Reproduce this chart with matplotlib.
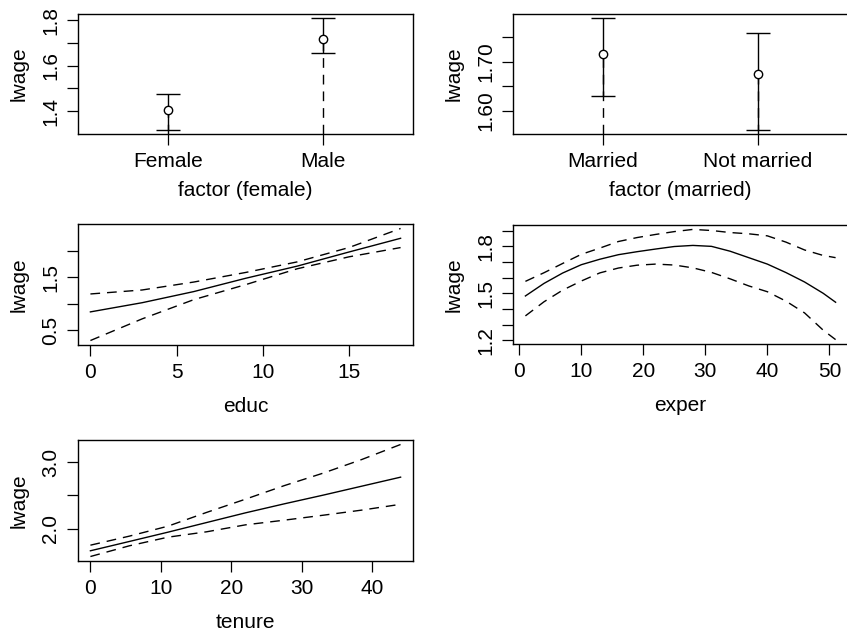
import matplotlib
matplotlib.use("Agg")
import matplotlib.pyplot as plt
import numpy as np

plt.rcParams['font.family'] = ['Liberation Sans', 'DejaVu Sans']
FS = 15
plt.rcParams['font.size'] = FS

W, H, DPI = 847, 632, 100

# factor terms: level estimates with confidence limits
female_levels = ["Female", "Male"]
female_fit = [1.404, 1.718]
female_lower = [1.320, 1.655]
female_upper = [1.474, 1.807]

married_levels = ["Married", "Not married"]
married_fit = [1.716, 1.675]
married_lower = [1.631, 1.562]
married_upper = [1.788, 1.759]

# numeric terms: fitted curve with confidence band
educ = [0, 3, 6, 9, 12, 15, 18]
educ_fit = [0.847, 1.02, 1.23, 1.48, 1.71, 1.976, 2.235]
educ_upper = [1.185, 1.26, 1.41, 1.59, 1.79, 2.06, 2.42]
educ_lower = [0.307, 0.715, 1.078, 1.36, 1.66, 1.885, 2.06]

exper = [1, 4, 7, 10, 13, 16, 19, 22, 25, 28, 31, 34, 37, 40, 43, 46, 49, 51]
exper_fit = [1.483, 1.563, 1.629, 1.682, 1.717, 1.746, 1.765, 1.782, 1.798, 1.805,
             1.799, 1.768, 1.727, 1.686, 1.632, 1.572, 1.500, 1.443]
exper_upper = [1.576, 1.631, 1.690, 1.748, 1.788, 1.830, 1.855, 1.875, 1.893, 1.907,
               1.900, 1.887, 1.879, 1.866, 1.826, 1.776, 1.741, 1.727]
exper_lower = [1.356, 1.446, 1.520, 1.578, 1.630, 1.661, 1.679, 1.686, 1.680, 1.662,
               1.633, 1.592, 1.547, 1.510, 1.450, 1.375, 1.265, 1.205]

tenure = [0, 5.5, 11, 16.5, 22, 27.5, 33, 38.5, 44]
tenure_fit = [1.671, 1.81, 1.95, 2.095, 2.24, 2.375, 2.505, 2.64, 2.775]
tenure_upper = [1.755, 1.89, 2.04, 2.247, 2.445, 2.648, 2.835, 3.04, 3.265]
tenure_lower = [1.585, 1.745, 1.875, 1.956, 2.06, 2.13, 2.204, 2.281, 2.368]

fig = plt.figure(figsize=(W / DPI, H / DPI), dpi=DPI)

LW = 1.0
DASH = (7, 5)


def panel(x0, y0, x1, y1):
    ax = fig.add_axes([x0 / W, 1 - y1 / H, (x1 - x0) / W, (y1 - y0) / H])
    for s in ax.spines.values():
        s.set_linewidth(1.0)
        s.set_color("black")
    ax.tick_params(length=7.9, width=0.9, pad=5, labelsize=FS, colors="black")
    return ax


def padded(lo, hi):
    d = (hi - lo) * 0.04
    return lo - d, hi + d


def fmt_ticks(ax, ticks, labels):
    ax.set_yticks(ticks)
    ax.set_yticklabels(labels, rotation=90, va="center")


def factor_panel(ax, levels, fit, lower, upper, xlabel):
    pos = np.arange(1, len(levels) + 1)
    ylo, yhi = padded(min(lower), max(upper))
    ax.set_ylim(ylo, yhi)
    ax.set_xlim(0.42, len(levels) + 0.58)
    ax.vlines(pos, ylo, fit, colors="black", linestyles=(0, DASH), lw=LW, zorder=2)
    ax.errorbar(pos, fit, yerr=[np.array(fit) - np.array(lower), np.array(upper) - np.array(fit)],
                fmt="o", mfc="white", mec="black", mew=1.0, ms=6, ecolor="black",
                elinewidth=LW, capsize=8.5, capthick=LW, zorder=3)
    ax.set_xticks(pos)
    ax.set_xticklabels(levels)
    ax.set_xlabel(xlabel, labelpad=7)
    ax.set_ylabel("lwage", labelpad=9)


def curve_panel(ax, x, fit, lower, upper, xlabel):
    ax.plot(x, fit, color="black", lw=LW)
    ax.plot(x, upper, color="black", lw=LW, dashes=DASH)
    ax.plot(x, lower, color="black", lw=LW, dashes=DASH)
    ax.set_xlim(*padded(min(x), max(x)))
    ax.set_ylim(*padded(min(lower), max(upper)))
    ax.set_xlabel(xlabel, labelpad=11)
    ax.set_ylabel("lwage", labelpad=9)


# female
ax1 = panel(78, 14, 413, 134)
factor_panel(ax1, female_levels, female_fit, female_lower, female_upper, "factor (female)")
fmt_ticks(ax1, [1.4, 1.5, 1.6, 1.7, 1.8], ["1.4", "", "1.6", "", "1.8"])

# married
ax2 = panel(513, 14, 848, 134)
factor_panel(ax2, married_levels, married_fit, married_lower, married_upper, "factor (married)")
fmt_ticks(ax2, [1.60, 1.65, 1.70, 1.75], ["1.60", "", "1.70", ""])

# educ
ax3 = panel(78, 224, 413, 345)
curve_panel(ax3, educ, educ_fit, educ_lower, educ_upper, "educ")
ax3.set_xticks([0, 5, 10, 15])
fmt_ticks(ax3, [0.5, 1.0, 1.5, 2.0], ["0.5", "", "1.5", ""])

# exper
ax4 = panel(513, 225, 848, 344)
curve_panel(ax4, exper, exper_fit, exper_lower, exper_upper, "exper")
ax4.set_xticks([0, 10, 20, 30, 40, 50])
fmt_ticks(ax4, [1.2, 1.3, 1.4, 1.5, 1.6, 1.7, 1.8, 1.9],
          ["1.2", "", "", "1.5", "", "", "1.8", ""])

# tenure
ax5 = panel(78, 440, 413, 561)
curve_panel(ax5, tenure, tenure_fit, tenure_lower, tenure_upper, "tenure")
ax5.set_xticks([0, 10, 20, 30, 40])
fmt_ticks(ax5, [2.0, 2.5, 3.0], ["2.0", "", "3.0"])

fig.savefig("out.png", dpi=DPI)
